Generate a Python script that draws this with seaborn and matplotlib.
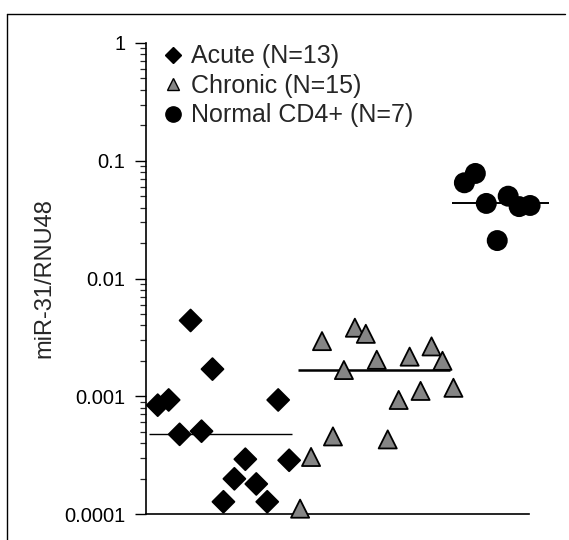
import numpy as np
import pandas as pd
import matplotlib
matplotlib.use("Agg")
import matplotlib.pyplot as plt
from matplotlib.lines import Line2D
from matplotlib.ticker import FixedLocator, LogLocator, NullFormatter
import seaborn as sns

# values (left-to-right order of the points)
groups = ["Acute (N=13)", "Chronic (N=15)", "Normal CD4+ (N=7)"]
acute = [0.00084, 0.00093, 0.000475, 0.0044, 0.000505, 0.0017, 0.000127,
         0.000199, 0.000292, 0.00018, 0.000127, 0.00093, 0.000286]
chronic = [0.000111, 0.000305, 0.00294, 0.000456, 0.00167, 0.00382, 0.00339,
           0.00204, 0.00043, 0.00093, 0.00217, 0.00111, 0.00265, 0.0020, 0.00118]
normal = [0.065, 0.078, 0.0434, 0.021, 0.050, 0.0408, 0.0417]
ytick_vals = [0.0001, 0.001, 0.01, 0.1, 1]
ytick_labels = ["0.0001", "0.001", "0.01", "0.1", "1"]

# build long table, x = running sample order
values = [acute, chronic, normal]
rows = []
i = 0
for g, vals in zip(groups, values):
    for v in vals:
        rows.append({"group": g, "order": i, "value": v})
        i += 1
df = pd.DataFrame(rows)

sns.set_style("ticks")
plt.rcParams["font.family"] = ["Liberation Sans", "DejaVu Sans"]

W, H = 569, 540
fig = plt.figure(figsize=(W / 100, H / 100), dpi=100)
ax = fig.add_axes([146 / W, 26 / H, 406 / W, 471 / H])

palette = {groups[0]: "black", groups[1]: "#858585", groups[2]: "black"}
markers = {groups[0]: "D", groups[1]: "^", groups[2]: "o"}
sizes = {groups[0]: 125, groups[1]: 170, groups[2]: 190}

sns.scatterplot(data=df, x="order", y="value", hue="group", style="group",
                size="group", palette=palette, markers=markers, sizes=sizes,
                edgecolor="black", linewidth=1.3, legend=False, ax=ax,
                clip_on=False, zorder=3)

# median lines
pads = [(0.8, 0.3), (0.2, -0.3), (1.1, 1.7)]
widths = [1.0, 1.8, 1.4]
for g, (lp, rp), lw in zip(groups, pads, widths):
    sub = df[df["group"] == g]
    ax.hlines(np.median(sub["value"]), sub["order"].min() - lp,
              sub["order"].max() + rp, color="black", lw=lw, zorder=2)

ax.set_yscale("log")
ax.set_ylim(1e-4, 1)
ax.set_xlim(-1.07, 36)
ax.yaxis.set_major_locator(FixedLocator(ytick_vals))
ax.set_yticklabels(ytick_labels, fontsize=14.5)
ax.yaxis.set_minor_locator(LogLocator(base=10, subs=np.arange(2, 10)))
ax.yaxis.set_minor_formatter(NullFormatter())
ax.tick_params(axis="y", which="major", length=8, width=1, pad=7, colors="black")
ax.tick_params(axis="y", which="minor", length=4, width=0.9)
ax.set_xticks([])
ax.set_xlabel("")
sns.despine(ax=ax)
ax.spines["bottom"].set_bounds(-1.07, 33.9)
ax.spines["left"].set_linewidth(1.2)
ax.spines["bottom"].set_linewidth(1.2)
ax.spines["left"].set_color("black")
ax.spines["bottom"].set_color("black")

ax.set_ylabel("miR-31/RNU48", fontsize=17)
ax.yaxis.set_label_coords(-0.224, 0.5)

handles = [
    Line2D([], [], marker="D", ls="", color="black", ms=8),
    Line2D([], [], marker="^", ls="", mfc="#858585", mec="black", ms=8),
    Line2D([], [], marker="o", ls="", color="black", ms=11),
]
ax.legend(handles, groups, loc="upper left", bbox_to_anchor=(0.047, 0.997),
          frameon=False, fontsize=18, handlelength=0.6, handletextpad=0.45,
          labelspacing=0.22, borderpad=0, borderaxespad=0)

# outer frame of the scanned panel
fig.add_artist(Line2D([7 / W, 7 / W], [0, 1 - 14 / H], transform=fig.transFigure,
                      color="black", lw=1))
fig.add_artist(Line2D([7 / W, 565 / W], [1 - 14 / H, 1 - 14 / H],
                      transform=fig.transFigure, color="black", lw=1))

fig.savefig("out.png", dpi=100)
